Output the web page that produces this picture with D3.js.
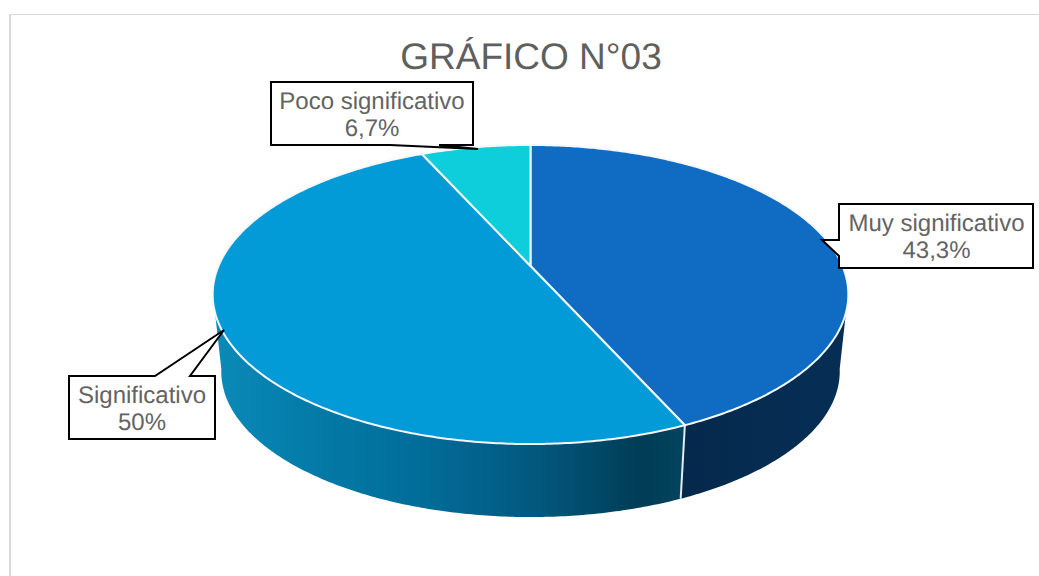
<!DOCTYPE html>
<html><head><meta charset="utf-8">
<script src="https://cdnjs.cloudflare.com/ajax/libs/d3/7.8.5/d3.min.js"></script>
<style>html,body{margin:0;padding:0;background:#fff;overflow:hidden}svg{display:block}text{text-rendering:geometricPrecision}</style>
</head><body><div id="chart"></div>
<script>
const categories = ["Muy significativo", "Significativo", "Poco significativo"];
const values = [43.3, 50, 6.7];
const valueLabels = ["43,3%", "50%", "6,7%"];
const topColors = ["#0F6CC2", "#029BD8", "#0DCEDA"];
const titleText = "GRÁFICO N°03";

const W = 1039, H = 576;
const svg = d3.select("#chart").append("svg").attr("width", W).attr("height", H);

// frame
svg.append("path").attr("d", "M10,576V14.5H1039").attr("fill", "none").attr("stroke", "#d9d9d9").attr("stroke-width", 1);
svg.append("rect").attr("x", 9).attr("y", 14).attr("width", 2).attr("height", 562).attr("fill", "#d9d9d9");

// perspective projection of a unit disc
const cx = 530.5, apexY = 266, R = 312, persp = -0.1906, slope = 93.4;
const depthScale = 0.973, depthShift = 73;
function rim(theta) {
  const u = Math.sin(theta), v = -Math.cos(theta), w = 1 + persp * v;
  return [cx + R * u / w, (apexY + slope * v) / w];
}
function rimLow(theta) {
  const p = rim(theta);
  return [cx + (p[0] - cx) * depthScale, 444 + depthShift + (p[1] - 444) * depthScale];
}
function sample(a0, a1, fn) {
  const n = Math.max(2, Math.ceil(Math.abs(a1 - a0) / 0.01));
  return d3.range(n + 1).map(i => fn(a0 + (a1 - a0) * i / n));
}
const line = d3.line();

const arcs = d3.pie().sort(null).value(d => d)(values);
const sideFrom = 100 * Math.PI / 180, sideTo = 260 * Math.PI / 180;

const defs = svg.append("defs");
const grad = defs.append("linearGradient").attr("id", "sideB")
  .attr("gradientUnits", "userSpaceOnUse").attr("x1", 215).attr("x2", 685).attr("y1", 0).attr("y2", 0);
[[0, "#0A8AB8"], [0.2, "#047BA8"], [0.45, "#016C98"], [0.7, "#02567C"], [0.91, "#003C55"], [1, "#03455F"]]
  .forEach(s => grad.append("stop").attr("offset", s[0]).attr("stop-color", s[1]));
const grad2 = defs.append("linearGradient").attr("id", "sideA")
  .attr("gradientUnits", "userSpaceOnUse").attr("x1", 680).attr("x2", 848).attr("y1", 0).attr("y2", 0);
[[0, "#05294C"], [1, "#062E55"]].forEach(s => grad2.append("stop").attr("offset", s[0]).attr("stop-color", s[1]));
const sideFills = ["url(#sideA)", "url(#sideB)"];

// side wall
arcs.forEach((d, i) => {
  const a0 = Math.max(d.startAngle, sideFrom), a1 = Math.min(d.endAngle, sideTo);
  if (a1 <= a0) return;
  const pts = sample(a0, a1, rim).concat(sample(a1, a0, rimLow));
  svg.append("path").attr("d", line(pts) + "Z").attr("fill", sideFills[i]);
});
// seam between the wall pieces
const seam = arcs[0].endAngle;
svg.append("path").attr("d", line([rim(seam), rimLow(seam)]))
  .attr("stroke", "#e6ecef").attr("stroke-width", 2).attr("fill", "none");

// top face
arcs.forEach((d, i) => {
  const pts = [[cx, apexY]].concat(sample(d.startAngle, d.endAngle, rim));
  svg.append("path").attr("d", line(pts) + "Z").attr("fill", topColors[i])
    .attr("stroke", "#f4f8fa").attr("stroke-width", 2).attr("stroke-linejoin", "round");
});

// title
svg.append("text").attr("x", 531).attr("y", 69).attr("text-anchor", "middle")
  .attr("font-family", "'Liberation Sans',Arial,sans-serif").attr("font-size", 37)
  .attr("fill", "#5f5f5f").text(titleText);

// callouts: box outline with its pointer
const callouts = [
  {i: 0, path: "M839,204H1033V268H839V256L822,240H839Z", tx: 936.5, ty: 231},
  {i: 1, path: "M69,376H155L224,330L190,376H215V439H69Z", tx: 142, ty: 403},
  {i: 2, path: "M271,82H473V145H439L478,149L390,145H271Z", tx: 372, ty: 109}
];
callouts.forEach(c => {
  svg.append("path").attr("d", c.path).attr("fill", "#fff").attr("stroke", "#000").attr("stroke-width", 2).attr("stroke-linejoin", "miter");
  const t = svg.append("text").attr("text-anchor", "middle")
    .attr("font-family", "'Liberation Sans',Arial,sans-serif").attr("font-size", 24).attr("fill", "#636363");
  t.append("tspan").attr("x", c.tx).attr("y", c.ty).text(categories[c.i]);
  t.append("tspan").attr("x", c.tx).attr("y", c.ty + 27).text(valueLabels[c.i]);
});
</script></body></html>
